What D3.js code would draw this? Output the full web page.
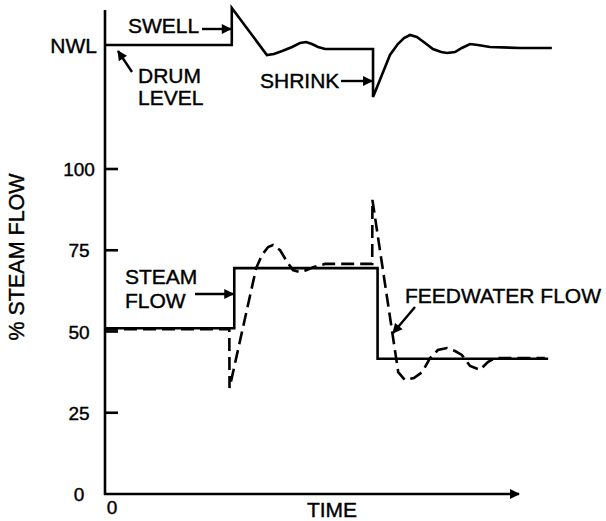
<!DOCTYPE html>
<html>
<head>
<meta charset="utf-8">
<script src="https://cdn.jsdelivr.net/npm/d3@7/dist/d3.min.js"></script>
<style>
  html, body { margin: 0; padding: 0; background: #fff; }
  svg { display: block; }
  text { font-family: "Liberation Sans", Arial, Helvetica, sans-serif; fill: #000; stroke: #000; stroke-width: 0.4px; }
</style>
</head>
<body>
<svg id="chart" width="606" height="521"></svg>
<script>
// Percent-flow axis ticks
const flowTicks = [0, 25, 50, 75, 100];

// Drum level (deviation from normal water level, arbitrary units) versus time
const drumTime  = [0, 30.7, 30.7, 39.2, 40.9, 42.9, 45.3, 47.2, 48.7, 50.1, 51.6, 53.3, 64.9, 64.9,
                   69.0, 70.9, 72.4, 73.85, 75.5, 77.5, 79.4, 81.4, 82.8, 84.75, 86.4, 88.4, 90.3, 93.2, 100.5, 108.2];
const drumLevel = [0, 0, 37, -10, -9, -6, -2, 2, 3, 1, -2, -4, -4, -52,
                   -10, 1, 7, 10, 8, 2, -4, -7, -8, -7, -3, 1, 0, -2, -3, -3];

// Steam flow (% of rated) versus time
const steamTime = [0, 31.3, 31.3, 66, 66, 107.3];
const steamFlow = [51, 51, 69.5, 69.5, 41.6, 41.6];

// Feedwater flow (% of rated) versus time
const feedTime = [0, 30.1, 30.15, 36.6, 38.0, 39.5, 40.7, 42.4, 44.1, 45.5, 47.2, 48.9, 50.4, 53.3, 64.7, 64.75,
                  71.0, 72.6, 74.8, 76.8, 78.7, 80.6, 82.8, 84.75, 86.4, 88.4, 90.8, 92.7, 94.4, 106.5];
const feedFlow = [50.7, 50.7, 32.6, 69.5, 73.5, 76, 76.6, 75, 71.4, 68.9, 68.3, 68.9, 69.8, 70.8, 70.8, 90.5,
                  37.5, 35.1, 35.7, 37.5, 41.8, 44.3, 44.9, 44, 42.8, 39.4, 38.2, 40.6, 41.8, 41.8];

const svg = d3.select("#chart");
const ink = "#000";
const lw = 2.6;

// Scales
const x = d3.scaleLinear().domain([0, 100]).range([105, 518]);
const y = d3.scaleLinear().domain([0, 100]).range([494, 169]);
const yLevel = d3.scaleLinear().domain([-60, 40]).range([105, 5]);

// Arrowhead marker
const defs = svg.append("defs");
defs.append("marker")
  .attr("id", "head")
  .attr("viewBox", "0 0 10 10")
  .attr("refX", 9).attr("refY", 5)
  .attr("markerUnits", "userSpaceOnUse")
  .attr("markerWidth", 11).attr("markerHeight", 10)
  .attr("orient", "auto")
  .append("path").attr("d", "M0,0 L10,5 L0,10 Z").attr("fill", ink);

// Axes
const x0 = x(0), yBase = y(0);
svg.append("line")
  .attr("x1", x0).attr("x2", x0).attr("y1", 10).attr("y2", yBase + 1)
  .attr("stroke", ink).attr("stroke-width", lw);
svg.append("line")
  .attr("x1", x0 - 1).attr("x2", 519).attr("y1", yBase).attr("y2", yBase)
  .attr("stroke", ink).attr("stroke-width", lw)
  .attr("marker-end", "url(#head)");

// Tick marks (drawn inward) and labels on the flow axis
svg.selectAll("line.tick").data(flowTicks.filter(d => d > 0)).join("line")
  .attr("class", "tick")
  .attr("x1", x0).attr("x2", x0 + 13)
  .attr("y1", d => y(d)).attr("y2", d => y(d))
  .attr("stroke", ink).attr("stroke-width", lw);
svg.selectAll("text.tlab").data(flowTicks).join("text")
  .attr("class", "tlab")
  .attr("x", 79).attr("y", d => y(d) + 7)
  .attr("text-anchor", "middle")
  .attr("font-size", 19)
  .text(d => d);

// Time origin and axis titles
svg.append("text").attr("x", x0 + 7).attr("y", 514).attr("text-anchor", "middle")
  .attr("font-size", 19).text("0");
svg.append("text").attr("x", 332).attr("y", 517).attr("text-anchor", "middle")
  .attr("font-size", 21).text("TIME");
svg.append("text")
  .attr("transform", "translate(24,257) rotate(-90)")
  .attr("text-anchor", "middle")
  .attr("font-size", 21.5).text("% STEAM FLOW");

// Curves
const flowLine = d3.line().x(d => x(d[0])).y(d => y(d[1]));
const levelLine = d3.line().x(d => x(d[0])).y(d => yLevel(d[1]));

svg.append("path")
  .datum(d3.zip(drumTime, drumLevel))
  .attr("d", levelLine)
  .attr("fill", "none").attr("stroke", ink).attr("stroke-width", lw)
  .attr("stroke-linejoin", "miter");

svg.append("path")
  .datum(d3.zip(steamTime, steamFlow))
  .attr("d", flowLine)
  .attr("fill", "none").attr("stroke", ink).attr("stroke-width", lw);

svg.append("path")
  .datum(d3.zip(feedTime, feedFlow))
  .attr("d", flowLine)
  .attr("fill", "none").attr("stroke", ink).attr("stroke-width", lw)
  .attr("stroke-dasharray", "13,6");

// Labels
function label(tx, ty, str, anchor) {
  svg.append("text").attr("x", tx).attr("y", ty)
    .attr("text-anchor", anchor || "start")
    .attr("font-size", 21).text(str);
}
function arrow(xa, ya, xb, yb) {
  svg.append("line")
    .attr("x1", xa).attr("y1", ya).attr("x2", xb).attr("y2", yb)
    .attr("stroke", ink).attr("stroke-width", 2.4)
    .attr("marker-end", "url(#head)");
}

label(97, 53, "NWL", "end");
label(128, 33, "SWELL");
arrow(202, 29, x(drumTime[1]) - 1, 29);
label(138, 83, "DRUM");
label(138, 105, "LEVEL");
arrow(132, 72, 118, 51);
label(260, 88, "SHRINK");
arrow(341, 81, x(drumTime[12]) - 1, 81);

label(125, 284, "STEAM");
label(125, 308, "FLOW");
arrow(195, 294, x(steamTime[1]) - 1, 294);
label(405, 303, "FEEDWATER FLOW");
arrow(415, 307, 393, 333);
</script>
</body>
</html>
